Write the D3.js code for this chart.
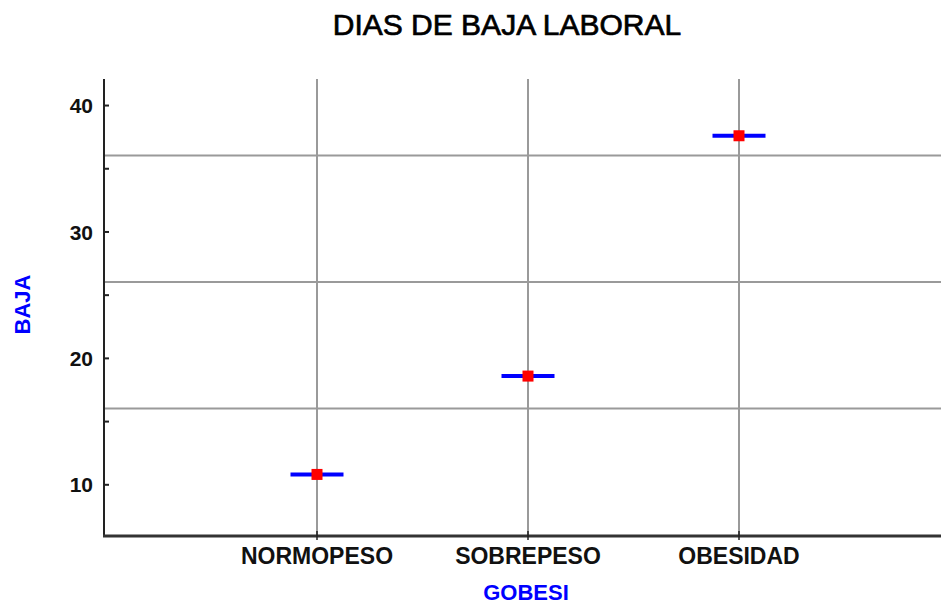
<!DOCTYPE html>
<html>
<head>
<meta charset="utf-8">
<script src="https://cdn.jsdelivr.net/npm/d3@7"></script>
<style>
  body { margin: 0; background: #fff; }
  svg { display: block; font-family: "Liberation Sans", Arial, sans-serif; }
</style>
</head>
<body>
<div id="chart"></div>
<script>
// data
const categories = ["NORMOPESO", "SOBREPESO", "OBESIDAD"];
const means      = [10.78, 18.56, 37.57];
const majorTicks = [10, 20, 30, 40];
const minorTicks = [15, 25, 35];
const gridValues = [16, 26, 36];

const width = 941, height = 605;
const plot = { left: 105, top: 79, right: 941, bottom: 536 };

const svg = d3.select("#chart").append("svg")
  .attr("width", width)
  .attr("height", height);

// scales: y runs 5.91..42.06, categories sit one slot apart from the y axis
const y = d3.scaleLinear().domain([5.91, 42.06]).range([plot.bottom, plot.top]);
const slot = 211;
const x = d3.scaleLinear().domain([0, 4]).range([plot.left + 1, plot.left + 1 + 4 * slot]);
const cx = i => x(i + 1);

// grid
svg.append("g").selectAll("line.h").data(gridValues).join("line")
  .attr("x1", plot.left).attr("x2", plot.right)
  .attr("y1", d => y(d)).attr("y2", d => y(d))
  .attr("stroke", "#9a9a9a").attr("stroke-width", 2);

svg.append("g").selectAll("line.v").data(categories).join("line")
  .attr("x1", (d, i) => cx(i)).attr("x2", (d, i) => cx(i))
  .attr("y1", plot.top).attr("y2", plot.bottom)
  .attr("stroke", "#9a9a9a").attr("stroke-width", 2);

// y axis
const yAxis = svg.append("g")
  .attr("transform", `translate(${plot.left - 1},0)`)
  .call(d3.axisLeft(y).tickValues(majorTicks).tickSize(4).tickPadding(7));
yAxis.select(".domain").remove();
yAxis.selectAll(".tick line").attr("x2", 5).attr("stroke", "#222").attr("stroke-width", 2);
yAxis.selectAll(".tick text")
  .attr("font-size", 21).attr("font-weight", "bold").attr("fill", "#111")
  .attr("font-family", "'Liberation Sans', Arial, sans-serif")
  .attr("dy", "0.36em");

const yMinor = svg.append("g")
  .attr("transform", `translate(${plot.left - 1},0)`)
  .call(d3.axisLeft(y).tickValues(minorTicks).tickSize(4).tickFormat(""));
yMinor.select(".domain").remove();
yMinor.selectAll(".tick line").attr("x2", 5).attr("stroke", "#222").attr("stroke-width", 2);

svg.append("line")
  .attr("x1", plot.left - 1).attr("x2", plot.left - 1)
  .attr("y1", plot.top).attr("y2", plot.bottom + 1)
  .attr("stroke", "#222").attr("stroke-width", 2);

// x axis
svg.append("line")
  .attr("x1", plot.left - 2).attr("x2", plot.right)
  .attr("y1", plot.bottom).attr("y2", plot.bottom)
  .attr("stroke", "#333").attr("stroke-width", 3);

svg.append("g").selectAll("line").data(categories).join("line")
  .attr("x1", (d, i) => cx(i)).attr("x2", (d, i) => cx(i))
  .attr("y1", plot.bottom - 5).attr("y2", plot.bottom + 4)
  .attr("stroke", "#222").attr("stroke-width", 1.5);

svg.append("g").selectAll("text").data(categories).join("text")
  .attr("x", (d, i) => cx(i))
  .attr("y", 564)
  .attr("text-anchor", "middle")
  .attr("font-size", 23).attr("font-weight", "bold").attr("fill", "#111")
  .text(d => d);

// means: blue bar with red square
const marks = svg.append("g").selectAll("g").data(means).join("g")
  .attr("transform", (d, i) => `translate(${cx(i)},${y(d)})`);
marks.append("line")
  .attr("x1", -26.5).attr("x2", 26.5)
  .attr("stroke", "#0000ff").attr("stroke-width", 4);
marks.append("rect")
  .attr("x", -5.5).attr("y", -5.5).attr("width", 11).attr("height", 11)
  .attr("fill", "#ff0000");

// titles
svg.append("text")
  .attr("x", 507).attr("y", 35)
  .attr("text-anchor", "middle")
  .attr("font-size", 30).attr("fill", "#000")
  .attr("stroke", "#000").attr("stroke-width", 0.7)
  .text("DIAS DE BAJA LABORAL");

svg.append("text")
  .attr("x", 526).attr("y", 600)
  .attr("text-anchor", "middle")
  .attr("font-size", 22).attr("font-weight", "bold").attr("fill", "#0000ff")
  .text("GOBESI");

svg.append("text")
  .attr("transform", "translate(30,304.5) rotate(-90)")
  .attr("text-anchor", "middle")
  .attr("font-size", 22).attr("font-weight", "bold").attr("fill", "#0000ff")
  .text("BAJA");
</script>
</body>
</html>
